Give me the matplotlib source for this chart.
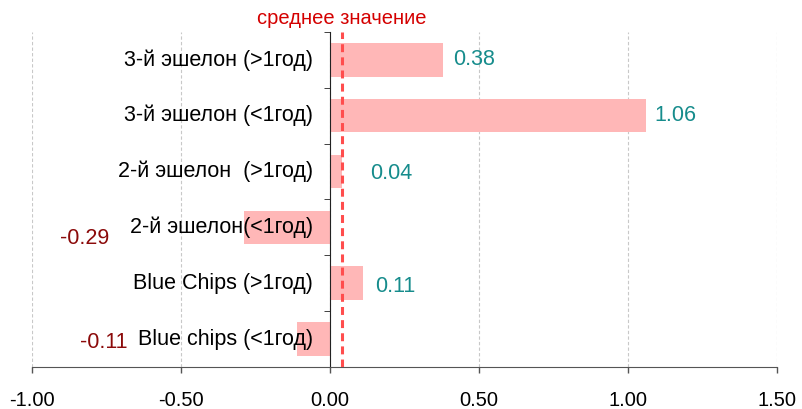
import matplotlib
matplotlib.use('Agg')
import matplotlib.pyplot as plt
import numpy as np

plt.rcParams['font.family'] = ['Liberation Sans', 'DejaVu Sans']

categories = ['3-й эшелон (>1год)', '3-й эшелон (<1год)', '2-й эшелон  (>1год)',
              '2-й эшелон(<1год)', 'Blue Chips (>1год)', 'Blue chips (<1год)']
values = [0.38, 1.06, 0.04, -0.29, 0.11, -0.11]
mean_value = 0.04
mean_label = 'среднее значение'
x_ticks = [-1.0, -0.5, 0.0, 0.5, 1.0, 1.5]

# label nudges in pixels so the numbers clear the bars and the category names
label_dx = [10, 9, 28, -134, 12, -170]
label_dy = [0, 0, -2, -11, -3, -3]

FS = 14.5

fig = plt.figure(figsize=(8.02, 4.09), dpi=100)
ax = fig.add_axes([0.0399, 0.1027, 0.9289, 0.8191])

y = np.arange(len(categories))
ax.barh(y, values, height=0.6, color='#ffb7b7', zorder=2)

ax.set_xlim(-1.0, 1.5)
ax.set_ylim(len(categories) - 0.5, -0.5)
ax.set_xticks(x_ticks)
ax.set_xticklabels([f'{t:.2f}' for t in x_ticks], fontsize=FS)
ax.tick_params(axis='x', length=4, width=1, color='#555555', pad=13)

ax.grid(axis='x', linestyle=(0, (3, 2)), color='#c8c8c8', linewidth=0.8, zorder=0)

for s in ['top', 'right']:
    ax.spines[s].set_visible(False)
ax.spines['bottom'].set_color('#555555')
ax.spines['left'].set_position(('data', 0))
ax.spines['left'].set_color('#222222')

# y ticks sit between categories
ax.set_yticks([])
ax.set_yticks(np.arange(len(categories) + 1) - 0.5, minor=True)
ax.tick_params(axis='y', which='minor', length=4, color='#222222', labelleft=False)

for i, name in enumerate(categories):
    ax.annotate(name, (0, i), xytext=(-17, 0), textcoords='offset pixels',
                ha='right', va='center', fontsize=15.5, color='black', zorder=4)

for i, v in enumerate(values):
    col = '#168c8c' if v >= 0 else '#8b0a0a'
    ax.annotate(f'{v:.2f}', (v, i), xytext=(label_dx[i], label_dy[i]),
                textcoords='offset pixels', ha='left' if v >= 0 else 'right',
                va='center', fontsize=15.5, color=col, zorder=4)

ax.axvline(mean_value, color='#ff4d4d', linestyle=(0, (2.6, 1.7)), linewidth=2.2, zorder=3)
ax.annotate(mean_label, (mean_value, -0.5), xytext=(0, 4), textcoords='offset pixels',
            ha='center', va='bottom', fontsize=FS, color='#d40000')

fig.savefig('out.png', dpi=100)
